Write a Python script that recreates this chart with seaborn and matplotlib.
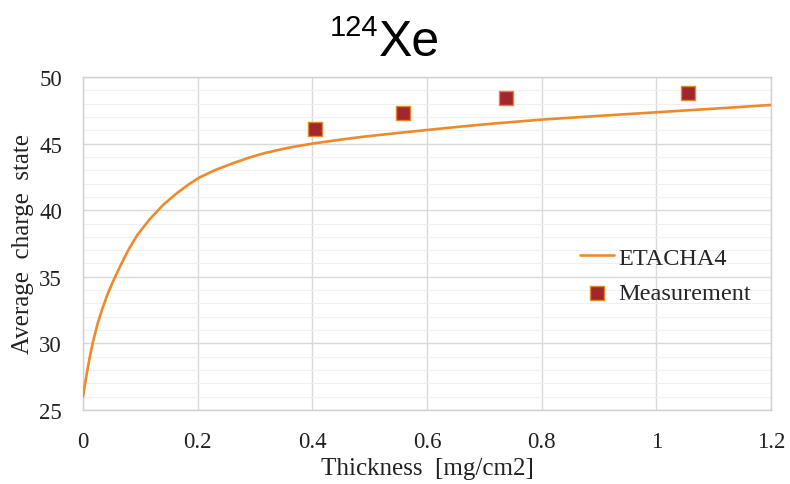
import matplotlib
matplotlib.use("Agg")
import matplotlib.pyplot as plt
import seaborn as sns
import pandas as pd
from matplotlib.ticker import MultipleLocator

# ETACHA4 calculation
thick_calc = [0, 0.003, 0.007, 0.012, 0.018, 0.025, 0.033, 0.043, 0.053, 0.065,
              0.079, 0.095, 0.116, 0.14, 0.163, 0.185, 0.203, 0.23, 0.26, 0.29,
              0.318, 0.36, 0.4, 0.45, 0.49, 0.55, 0.6, 0.66, 0.72, 0.8, 0.9,
              1.0, 1.1, 1.2]
q_calc = [26.0, 26.8, 27.8, 29.0, 30.2, 31.4, 32.5, 33.7, 34.7, 35.8,
          37.0, 38.15, 39.3, 40.4, 41.25, 41.95, 42.45, 43.0, 43.5, 43.95,
          44.3, 44.7, 45.0, 45.3, 45.52, 45.8, 46.02, 46.28, 46.52, 46.8, 47.08,
          47.35, 47.62, 47.9]
# Measurement
thick_meas = [0.405, 0.559, 0.737, 1.055]
q_meas = [46.1, 47.3, 48.4, 48.8]

x_ticks = [0, 0.2, 0.4, 0.6, 0.8, 1.0, 1.2]
x_labels = ["0", "0.2", "0.4", "0.6", "0.8", "1", "1.2"]
y_ticks = [25, 30, 35, 40, 45, 50]

sns.set_theme(style="white")
plt.rcParams['font.family'] = ['Liberation Serif', 'DejaVu Serif']

fig = plt.figure(figsize=(7.9, 4.85), dpi=100)
ax = fig.add_axes([0.105, 0.1526, 0.871, 0.6866])

df_calc = pd.DataFrame({"t": thick_calc, "q": q_calc})
df_meas = pd.DataFrame({"t": thick_meas, "q": q_meas})

sns.lineplot(data=df_calc, x="t", y="q", ax=ax, color="#EE8A2A", linewidth=1.9,
             label="ETACHA4", zorder=3)
sns.scatterplot(data=df_meas, x="t", y="q", ax=ax, marker="s", s=90,
                color="#A2262E", edgecolor="#E8862A", linewidth=1.0,
                label="Measurement", zorder=4)

ax.set_xlim(0, 1.2)
ax.set_ylim(25, 50)
ax.set_xticks(x_ticks)
ax.set_xticklabels(x_labels)
ax.set_yticks(y_ticks)
ax.yaxis.set_minor_locator(MultipleLocator(1))
ax.grid(which="major", color="#d9d9d9", linewidth=1.0)
ax.grid(which="minor", axis="y", color="#f0f0f0", linewidth=0.8)
ax.set_axisbelow(True)
for s in ax.spines.values():
    s.set_color("#d0d0d0")
    s.set_linewidth(1.0)
ax.tick_params(axis="both", which="both", length=0, labelsize=16.5, colors="#222222")
ax.tick_params(axis="x", pad=15)
ax.tick_params(axis="y", pad=15)
ax.set_xlabel("Thickness  [mg/cm2]", fontsize=18, color="#222222", labelpad=4)
ax.set_ylabel("Average  charge  state", fontsize=18, color="#222222", labelpad=4)

leg = ax.legend(loc="upper left", bbox_to_anchor=(0.708, 0.52), frameon=False,
                fontsize=17.5, handlelength=1.4, handletextpad=0.2,
                labelspacing=0.55, borderaxespad=0)

fig.text(0.479, 0.885, "Xe", fontsize=36, family="Liberation Sans", ha="left",
         va="baseline", color="black")
fig.text(0.479, 0.925, "124", fontsize=21, family="Liberation Sans", ha="right",
         va="baseline", color="black")

fig.savefig("out.png", dpi=100)
